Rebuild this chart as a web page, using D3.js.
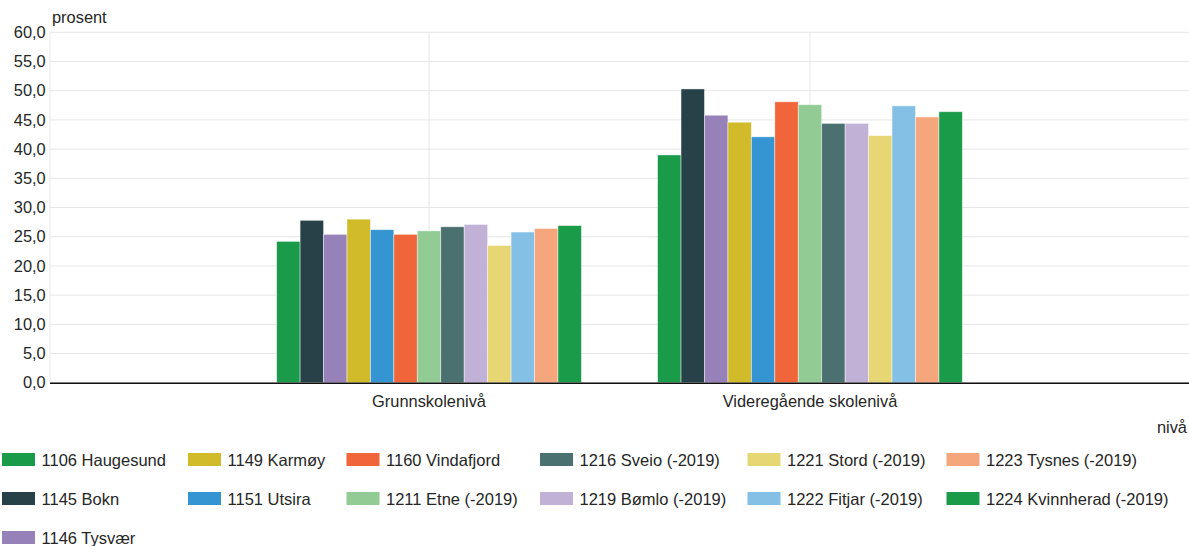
<!DOCTYPE html>
<html>
<head>
<meta charset="utf-8">
<script src="https://cdn.jsdelivr.net/npm/d3@7"></script>
<style>
  html, body { margin: 0; padding: 0; background: #fff; }
  svg { display: block; font-family: "Liberation Sans", Arial, sans-serif; }
</style>
</head>
<body>
<svg id="chart" width="1189" height="546"></svg>
<script>
const categories = ["Grunnskolenivå", "Videregående skolenivå"];
const seriesNames = [
  "1106 Haugesund", "1145 Bokn", "1146 Tysvær", "1149 Karmøy", "1151 Utsira",
  "1160 Vindafjord", "1211 Etne (-2019)", "1216 Sveio (-2019)", "1219 Bømlo (-2019)",
  "1221 Stord (-2019)", "1222 Fitjar (-2019)", "1223 Tysnes (-2019)", "1224 Kvinnherad (-2019)"
];
const grunnskole = [24.2, 27.8, 25.4, 28.0, 26.2, 25.4, 26.0, 26.7, 27.1, 23.5, 25.8, 26.4, 26.9];
const videregaende = [39.0, 50.3, 45.8, 44.6, 42.1, 48.1, 47.6, 44.4, 44.4, 42.3, 47.4, 45.5, 46.4];
const seriesColors = [
  "#1a9b4a", "#264148", "#9682b9", "#d2bb2a", "#3594d2", "#f0653a", "#92cb93",
  "#4a706f", "#c1b1d6", "#e6d674", "#84c0e6", "#f6a67d", "#1a9b4a"
];
const yTicks = [0, 5, 10, 15, 20, 25, 30, 35, 40, 45, 50, 55, 60];
const yTitle = "prosent";
const xTitle = "nivå";

(function () {
const values = [grunnskole, videregaende];

const svg = d3.select("#chart");
const pLeft = 50, pRight = 1189, pTop = 32.3, pBottom = 382.7;
const textColor = "#262626";
const gridColor = "#e6e6e6";
const fs = 16.4;

const y = d3.scaleLinear().domain([0, 60]).range([pBottom, pTop]);
const x0 = d3.scaleBand().domain(categories).range([pLeft, pRight])
  .paddingInner(0.2).paddingOuter(0.595).align(0.5);
const x1 = d3.scaleBand().domain(seriesNames).range([0, x0.bandwidth()]).padding(0);

// horizontal grid
svg.append("g").selectAll("line").data(yTicks).join("line")
  .attr("x1", pLeft).attr("x2", pRight)
  .attr("y1", d => y(d)).attr("y2", d => y(d))
  .attr("stroke", gridColor).attr("stroke-width", 1);

// vertical grid: left edge and category centers
svg.append("line").attr("x1", pLeft).attr("x2", pLeft).attr("y1", pTop).attr("y2", pBottom)
  .attr("stroke", gridColor);
svg.append("g").selectAll("line").data(categories).join("line")
  .attr("x1", d => x0(d) + x0.bandwidth() / 2).attr("x2", d => x0(d) + x0.bandwidth() / 2)
  .attr("y1", pTop).attr("y2", pBottom)
  .attr("stroke", gridColor).attr("stroke-width", 1);

// y tick labels
const fmt = d3.format(".1f");
svg.append("g").selectAll("text").data(yTicks).join("text")
  .attr("x", 45.7).attr("y", d => y(d)).attr("dy", "0.35em")
  .attr("text-anchor", "end").attr("font-size", fs).attr("fill", textColor)
  .text(d => fmt(d).replace(".", ","));

// bars
const groups = svg.append("g").selectAll("g").data(categories).join("g")
  .attr("transform", d => `translate(${x0(d)},0)`);
groups.selectAll("rect")
  .data((c, ci) => seriesNames.map((s, si) => ({ s, si, v: values[ci][si] })))
  .join("rect")
  .attr("x", d => x1(d.s))
  .attr("y", d => y(d.v))
  .attr("width", x1.bandwidth())
  .attr("height", d => pBottom - y(d.v))
  .attr("fill", d => seriesColors[d.si])
  .attr("stroke", "#fff").attr("stroke-opacity", 0.55).attr("stroke-width", 0.8);

// x axis line
svg.append("line").attr("x1", pLeft).attr("x2", pRight).attr("y1", pBottom + 0.5).attr("y2", pBottom + 0.5)
  .attr("stroke", "#111").attr("stroke-width", 1.6);

// category labels
svg.append("g").selectAll("text").data(categories).join("text")
  .attr("x", d => x0(d) + x0.bandwidth() / 2).attr("y", 407)
  .attr("text-anchor", "middle").attr("font-size", fs).attr("fill", textColor)
  .text(d => d);

// axis titles
svg.append("text").attr("x", 52).attr("y", 23).attr("font-size", fs).attr("fill", textColor).text(yTitle);
svg.append("text").attr("x", 1187).attr("y", 433).attr("text-anchor", "end")
  .attr("font-size", fs).attr("fill", textColor).text(xTitle);

// legend
const colX = [2, 188, 346.5, 540, 747.5, 946.5];
const rowY = [453, 492, 531];
function legendPos(i) {
  if (i < 3) return [0, i];
  return [1 + Math.floor((i - 3) / 2), (i - 3) % 2];
}
const leg = svg.append("g").selectAll("g").data(seriesNames).join("g")
  .attr("transform", (d, i) => { const [c, r] = legendPos(i); return `translate(${colX[c]},${rowY[r]})`; });
leg.append("rect").attr("width", 33).attr("height", 13)
  .attr("fill", (d, i) => seriesColors[i]);
leg.append("text").attr("x", 39.5).attr("y", 13).attr("font-size", 16.5).attr("fill", textColor)
  .text(d => d);
})();
</script>
</body>
</html>
